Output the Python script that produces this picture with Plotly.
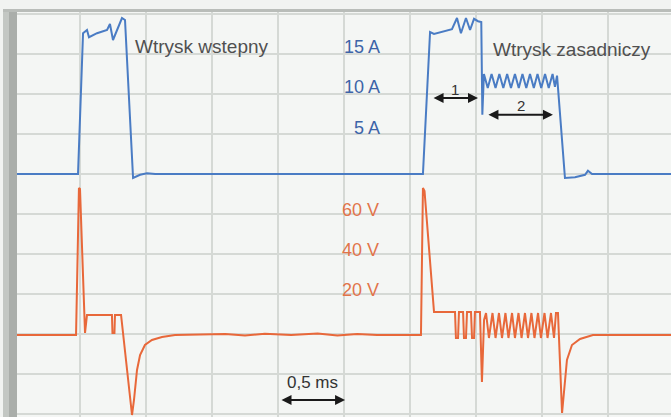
import plotly.graph_objects as go

# ---- data (time in ms) ----
current_time = [0.02, 0.485, 0.523, 0.553, 0.568, 0.629, 0.705, 0.727, 0.750, 0.780, 0.818, 0.841,
                0.902, 0.955, 1.008, 1.07, 3.098, 3.152, 3.182, 3.318, 3.356, 3.386, 3.424, 3.455,
                3.485, 3.515, 3.540, 3.548, 3.560, 3.589, 3.618, 3.648, 3.677, 3.707, 3.736, 3.765,
                3.795, 3.824, 3.852, 3.881, 3.909, 3.938, 3.966, 3.994, 4.023, 4.051, 4.080, 4.098,
                4.114, 4.174, 4.25, 4.326, 4.348, 4.379, 4.98]
current_amps = [0, 0, 17.6, 18.0, 17.1, 17.6, 18.0, 18.75, 16.75, 18.0, 19.5, 19.25,
                -0.5, -0.1, 0.1, 0, 0, 17.75, 17.5, 18.1, 19.5, 17.6, 19.5, 18.0,
                19.4, 19.1, 19.0, 7.4, 12.5, 10.75, 12.5, 10.75, 12.5, 10.75, 12.5, 10.75,
                12.5, 10.75, 12.5, 10.75, 12.5, 10.75, 12.5, 10.75, 12.5, 10.75, 12.5, 10.9,
                12.3, -0.5, -0.4, -0.1, 0.4, 0, 0]

voltage_time = [0.02, 0.470, 0.492, 0.500, 0.538, 0.553, 0.742, 0.746, 0.761, 0.765, 0.811,
                0.894, 0.909, 0.932, 0.955, 0.992, 1.045, 1.121, 1.22, 1.6, 1.75, 1.9, 2.1,
                2.3, 2.45, 2.6, 2.75, 3.083, 3.098, 3.110, 3.182, 3.341, 3.348, 3.364, 3.371,
                3.402, 3.409, 3.424, 3.432, 3.462, 3.470, 3.485, 3.492, 3.530, 3.545, 3.561,
                3.576, 3.598, 3.625, 3.648, 3.674, 3.697, 3.723, 3.746, 3.773, 3.795, 3.822,
                3.845, 3.871, 3.894, 3.920, 3.943, 3.970, 3.992, 4.019, 4.042, 4.068, 4.091,
                4.106, 4.121, 4.152, 4.174, 4.189, 4.227, 4.288, 4.386, 4.98]
voltage_volts = [0, 0, 73.5, 73, 1, 10, 10, 1, 1, 10, 10,
                 -40, -32.5, -17.5, -10, -5, -2.5, -1, 0, 0.5, -0.3, 0.6, 0,
                 0.7, -0.2, 0.5, 0, 0, 73.5, 72, 11.5, 11.5, -1.5, -1.5, 11.5,
                 11.5, -1.5, -1.5, 11.5, 11.5, -1.5, -1.5, 11.5, 11.5, -23.5, 7.5,
                 11, -1.5, 11, -1.5, 11, -1.5, 11, -1.5, 11, -1.5, 11,
                 -1.5, 11, -1.5, 11, -1.5, 11, -1.5, 11, -1.5, 11, -1.5,
                 11, 11, -39, -25, -12.5, -5, -2, 0, 0]

current_labels = ["15 A", "10 A", "5 A"]
current_label_values = [15.9, 10.9, 5.75]
voltage_labels = ["60 V", "40 V", "20 V"]
voltage_label_values = [62.5, 42.5, 22.5]

BLUE = "#4a7cc4"
ORANGE = "#e8683a"
W, H = 671, 417
ML, MT = 17, 12
PW, PH = W - ML, H - MT
FONT = "Liberation Sans, Arial, sans-serif"

fig = go.Figure()
fig.add_trace(go.Scatter(x=current_time, y=current_amps, mode="lines",
                         line=dict(color=BLUE, width=2), yaxis="y", hoverinfo="skip"))
fig.add_trace(go.Scatter(x=voltage_time, y=voltage_volts, mode="lines",
                         line=dict(color=ORANGE, width=2), yaxis="y2", hoverinfo="skip"))

ann = []
font_main = dict(family=FONT, size=19, color="#505050")
ann.append(dict(x=0.902, y=15.9, xref="x", yref="y", text="Wtrysk wstepny", showarrow=False,
                xanchor="left", yanchor="middle", font=font_main))
ann.append(dict(x=3.61, y=15.6, xref="x", yref="y", text="Wtrysk zasadniczy", showarrow=False,
                xanchor="left", yanchor="middle", font=font_main))
for txt, v in zip(current_labels, current_label_values):
    ann.append(dict(x=2.79, y=v, xref="x", yref="y", text=txt, showarrow=False,
                    xanchor="right", yanchor="middle",
                    font=dict(family=FONT, size=18, color="#3d64a8")))
for txt, v in zip(voltage_labels, voltage_label_values):
    ann.append(dict(x=2.78, y=v, xref="x", yref="y2", text=txt, showarrow=False,
                    xanchor="right", yanchor="middle",
                    font=dict(family=FONT, size=18, color="#e2744a")))

def dbl_arrow(x0, x1, y):
    return dict(x=x1, y=y, ax=x0, ay=y, xref="x", yref="y", axref="x", ayref="y",
                showarrow=True, arrowhead=2, startarrowhead=2, arrowside="end+start",
                arrowsize=1, startarrowsize=1, arrowwidth=2, arrowcolor="#1a1a1a", text="")

ann.append(dbl_arrow(3.167, 3.515, 9.5))
ann.append(dict(x=3.341, y=10.6, xref="x", yref="y", text="1", showarrow=False,
                font=dict(family=FONT, size=15, color="#333")))
ann.append(dbl_arrow(3.583, 4.083, 7.4))
ann.append(dict(x=3.841, y=8.6, xref="x", yref="y", text="2", showarrow=False,
                font=dict(family=FONT, size=15, color="#333")))
ann.append(dbl_arrow(2.015, 2.508, -28.25))
ann.append(dict(x=2.265, y=-26.1, xref="x", yref="y", text="0,5 ms", showarrow=False,
                font=dict(family=FONT, size=17, color="#333")))

shapes = [
    dict(type="rect", xref="paper", yref="paper", x0=-14 / PW, x1=-8 / PW, y0=-0.1, y1=1 + 2 / PH,
         fillcolor="#c3c7c3", line=dict(width=0), layer="above"),
    dict(type="rect", xref="paper", yref="paper", x0=-8 / PW, x1=0, y0=-0.1, y1=1 + 2 / PH,
         fillcolor="#aaaeaa", line=dict(width=0), layer="above"),
    dict(type="rect", xref="paper", yref="paper", x0=-14 / PW, x1=1.01, y0=1 + 0 / PH, y1=1 + 3 / PH,
         fillcolor="#b9bdb9", line=dict(width=0), layer="above"),
]

fig.update_layout(
    width=W, height=H,
    margin=dict(l=ML, r=0, t=MT, b=0),
    paper_bgcolor="#f1f3f1",
    plot_bgcolor="#f4f6f4",
    showlegend=False,
    xaxis=dict(range=[(ML - 14) / 132, (W - 14) / 132], dtick=0.5, tick0=0, showgrid=True,
               gridcolor="#d5d9d5", gridwidth=2, zeroline=False, showticklabels=False,
               ticks="", showline=False, fixedrange=True),
    yaxis=dict(range=[-30.375, 20.25], dtick=5, tick0=0, showgrid=True, gridcolor="#d5d9d5",
               gridwidth=2, zeroline=False, showticklabels=False, ticks="", showline=False),
    yaxis2=dict(range=[-41, 161.5], overlaying="y", visible=False, showgrid=False, zeroline=False),
    annotations=ann,
    shapes=shapes,
)

fig.write_html("out.html", config={"displayModeBar": False},
               post_script="document.body.style.margin='0';document.body.style.overflow='hidden';")
